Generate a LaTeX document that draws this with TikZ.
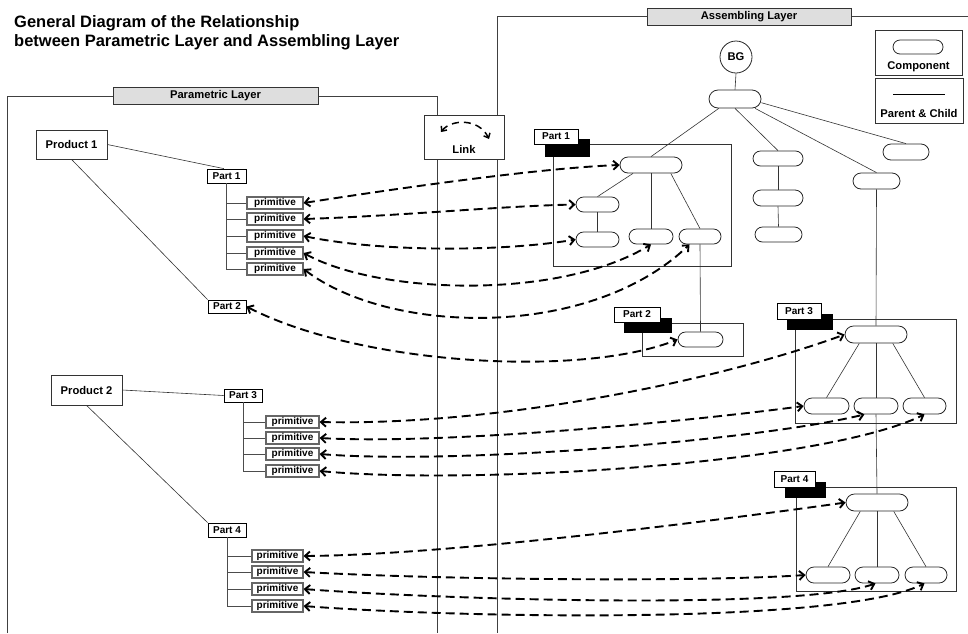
\documentclass[tikz,border=0pt]{standalone}
\usepackage{fontspec}
\setmainfont{Liberation Sans}
\usetikzlibrary{arrows.meta}
\begin{document}
\begin{tikzpicture}[x=1pt,y=-1pt,
  sfont/.style={font=\bfseries\fontsize{10}{11}\selectfont},
  mfont/.style={font=\bfseries\fontsize{11.2}{12}\selectfont},
  plabel/.style={draw=black, line width=0.8pt, fill=white, inner sep=0pt, sfont},
  prim/.style={draw=black!60, line width=1.1pt, fill=white, inner sep=0pt, minimum height=12pt, sfont},
  prod/.style={draw=black!80, line width=0.7pt, fill=white, inner sep=0pt, minimum width=71pt, minimum height=29pt, mfont},
  pill/.style={draw=black!85, line width=0.8pt, fill=white, rounded corners=7.5pt, inner sep=0pt, minimum height=15pt},
  hdr/.style={draw=black!80, line width=0.8pt, fill=black!13, inner sep=0pt, minimum height=17pt, mfont},
  layerframe/.style={draw=black!75, line width=0.8pt},
  grpframe/.style={draw=black!80, line width=0.7pt, fill=none, inner sep=0pt},
  blk/.style={fill=black, draw=black, inner sep=0pt},
  treeline/.style={draw=black!80, line width=0.6pt},
  branch/.style={draw=black!70, line width=0.9pt},
  dlink/.style={line width=1.9pt, dash pattern=on 9pt off 5pt,
     {Straight Barb[length=5pt,width=9pt]}-{Straight Barb[length=5pt,width=9pt]}}
]
\useasboundingbox (0,0) rectangle (968,633);

% ---------- title ----------
\node[anchor=base west, inner sep=0, font=\bfseries\fontsize{16.5}{18}\selectfont] (title1) at (14,27) {General Diagram of the Relationship};
\node[anchor=base west, inner sep=0, font=\bfseries\fontsize{16.5}{18}\selectfont] (title2) at (14,46) {between Parametric Layer and Assembling Layer};

% ---------- layer frames ----------
\draw[layerframe] (7,633) -- (7,96) -- (437,96) -- (437,633);
\draw[layerframe] (968,16) -- (497,16) -- (497,633);
\node[hdr, minimum width=205pt] (phdr) at (215.5,95.5) {Parametric Layer};
\node[hdr, minimum width=204pt] (ahdr) at (749,16.5) {Assembling Layer};

% ---------- link symbol ----------
\node[draw=black!80, line width=0.8pt, fill=white, minimum width=80pt, minimum height=44pt, inner sep=0pt] (linkbox) at (464,137) {};
\node[mfont, inner sep=0pt, anchor=base] (linktxt) at (464,153) {Link};
\draw[line width=1.5pt, dash pattern=on 7pt off 5pt, {Straight Barb[length=4pt,width=7pt]}-{Straight Barb[length=4pt,width=7pt]}] (441,132) .. controls (451,119) and (479,118) .. (489,139);

% ---------- legend ----------
\node[grpframe, minimum width=87pt, minimum height=45pt] (leg1) at (918.5,52.5) {};
\node[pill, minimum width=50pt, minimum height=14pt, rounded corners=7pt] (legpill) at (918,47) {};
\node[mfont, inner sep=0pt, anchor=base] (legtxt1) at (918.5,69) {Component};
\node[grpframe, minimum width=88pt, minimum height=45pt] (leg2) at (919,100.5) {};
\coordinate (legl) at (893,94);
\coordinate (legr) at (945,94);
\draw[line width=0.8pt] (legl) -- (legr);
\node[mfont, inner sep=0pt, anchor=base] (legtxt2) at (919,117) {Parent \& Child};

% ---------- parametric layer ----------
\node[prod] (prod1) at (71.5,144.5) {Product 1};
\node[plabel, minimum width=39pt, minimum height=14pt] (pa1) at (226.5,176) {Part 1};
\foreach \n/\y in {a/203,b/219,c/236,d/253,e/269}
  \node[prim, minimum width=56pt] (prim1\n) at (275,\y) {primitive};
\node[plabel, minimum width=38pt, minimum height=13pt] (pa2) at (227,306.5) {Part 2};

\node[prod, minimum height=30pt] (prod2) at (86.5,390) {Product 2};
\node[plabel, minimum width=38pt, minimum height=13pt] (pa3) at (243,395.5) {Part 3};
\foreach \n/\y in {a/422,b/438,c/454,d/471}
  \node[prim, minimum width=53pt] (prim3\n) at (292.5,\y) {primitive};
\node[plabel, minimum width=38pt, minimum height=14pt] (pa4) at (227,530) {Part 4};
\foreach \n/\y in {a/556,b/572,c/589,d/606}
  \node[prim, minimum width=51pt] (prim4\n) at (277.5,\y) {primitive};

\draw[treeline] (prod1.east) -- (pa1.110);
\draw[treeline] (prod1.south) -- (pa2.north west);
\draw[treeline] (prod2.east) -- (pa3.west);
\draw[treeline] (prod2.south) -- (pa4.north west);
\draw[branch] (pa1.south) |- (prim1e.west);
\foreach \n in {a,b,c,d} \draw[branch] (pa1.south |- prim1\n.west) -- (prim1\n.west);
\draw[branch] (pa3.south) |- (prim3d.west);
\foreach \n in {a,b,c} \draw[branch] (pa3.south |- prim3\n.west) -- (prim3\n.west);
\draw[branch] (pa4.south) |- (prim4d.west);
\foreach \n in {a,b,c} \draw[branch] (pa4.south |- prim4\n.west) -- (prim4\n.west);

% ---------- assembling layer: top tree ----------
\node[circle, draw=black!85, line width=0.8pt, fill=white, minimum size=32pt, inner sep=0pt, mfont] (bg) at (736,57) {BG};
\node[pill, minimum width=52pt, minimum height=18pt, rounded corners=9pt] (root) at (735,99) {};
\node[pill, minimum width=50pt] (m1) at (778,158.5) {};
\node[pill, minimum width=50pt, minimum height=16pt, rounded corners=8pt] (m2) at (778,198) {};
\node[pill, minimum width=47pt] (m3) at (778.5,234.5) {};
\node[pill, minimum width=46pt, minimum height=16pt, rounded corners=8pt] (fr) at (906,152) {};
\node[pill, minimum width=47pt, minimum height=16pt, rounded corners=8pt] (rc) at (876.5,181) {};

% ---------- Part 1 group ----------
\node[grpframe, minimum width=178pt, minimum height=122pt] (g1) at (642,205) {};
\node[blk, minimum width=44pt, minimum height=17pt] (b1) at (567,147.5) {};
\node[plabel, minimum width=44pt, minimum height=15pt] (l1) at (556,136.5) {Part 1};
\node[pill, minimum width=62pt, minimum height=16pt, rounded corners=8pt] (p1r) at (651,165) {};
\node[pill, minimum width=43pt] (p1a) at (597.5,204.5) {};
\node[pill, minimum width=43pt] (p1b) at (597.5,239.5) {};
\node[pill, minimum width=44pt] (p1c) at (651,236.5) {};
\node[pill, minimum width=42pt] (p1d) at (700,236.5) {};

% ---------- Part 2 group ----------
\node[grpframe, minimum width=101pt, minimum height=33pt] (g2) at (692.5,339.5) {};
\node[blk, minimum width=47pt, minimum height=14pt] (b2) at (647.5,325) {};
\node[plabel, minimum width=46pt, minimum height=15pt] (l2) at (637,314.5) {Part 2};
\node[pill, minimum width=45pt] (p2p) at (700.5,339.5) {};

% ---------- Part 3 group ----------
\node[grpframe, minimum width=161pt, minimum height=104pt] (g3) at (875.5,371) {};
\node[blk, minimum width=45pt, minimum height=15pt] (b3) at (809.5,321.5) {};
\node[plabel, minimum width=44pt, minimum height=16pt] (l3) at (799,311) {Part 3};
\node[pill, minimum width=62pt, minimum height=17pt, rounded corners=8.5pt] (p3r) at (876,334.5) {};
\node[pill, minimum width=45pt, minimum height=16pt, rounded corners=8pt] (p3l) at (826.5,406) {};
\node[pill, minimum width=44pt, minimum height=16pt, rounded corners=8pt] (p3m) at (876,406) {};
\node[pill, minimum width=43pt, minimum height=16pt, rounded corners=8pt] (p3rr) at (924.5,406) {};

% ---------- Part 4 group ----------
\node[grpframe, minimum width=160pt, minimum height=104pt] (g4) at (876,539) {};
\node[blk, minimum width=40pt, minimum height=15pt] (b4) at (805,489.5) {};
\node[plabel, minimum width=41pt, minimum height=16pt] (l4) at (794.5,479) {Part 4};
\node[pill, minimum width=62pt, minimum height=17pt, rounded corners=8.5pt] (p4r) at (877,502.5) {};
\node[pill, minimum width=44pt, minimum height=16pt, rounded corners=8pt] (p4l) at (828,575) {};
\node[pill, minimum width=44pt, minimum height=16pt, rounded corners=8pt] (p4m) at (877,575) {};
\node[pill, minimum width=42pt, minimum height=16pt, rounded corners=8pt] (p4rr) at (926,575) {};

% ---------- parent/child lines ----------
\draw[treeline] (bg.south) -- (root.north);
\draw[treeline] (root.-150) -- (p1r.north);
\draw[treeline] (root.south) -- (m1.north);
\draw[treeline] (root.-25) -- (rc.north);
\draw[treeline] (root.-8) -- (fr.north);
\draw[treeline] (m1.south) -- (m2.north);
\draw[treeline] (m2.south) -- (m3.north);
\draw[treeline] (p1r.-155) -- (p1a.north);
\draw[treeline] (p1r.south) -- (p1c.north);
\draw[treeline] (p1r.-23) -- (p1d.north);
\draw[treeline] (p1a.south) -- (p1b.north);
\draw[treeline] (p1d.south) -- (p2p.north);
\draw[treeline] (rc.south) -- (p3r.north);
\draw[treeline] (p3r.south) -- (p3m.north);
\draw[treeline] (p3r.-152) -- (p3l.north);
\draw[treeline] (p3r.-28) -- (p3rr.north);
\draw[treeline] (p3m.south) -- (p4r.north);
\draw[treeline] (p4r.south) -- (p4m.north);
\draw[treeline] (p4r.-152) -- (p4l.north);
\draw[treeline] (p4r.-28) -- (p4rr.north);

% ---------- dashed links ----------
\draw[dlink] (prim1a.east) .. controls (400,188) and (540,168) .. (p1r.west);
\draw[dlink] (prim1b.east) .. controls (400,216) and (500,206) .. (p1a.west);
\draw[dlink] (prim1c.east) .. controls (380,252) and (500,252) .. (p1b.west);
\draw[dlink] (prim1d.east) .. controls (380,295) and (560,300) .. (p1c.south);
\draw[dlink] (prim1e.east) .. controls (390,335) and (590,340) .. (p1d.-143);
\draw[dlink] (pa2.east) .. controls (360,365) and (580,378) .. (p2p.west);

\draw[dlink] (prim3a.east) .. controls (500,426) and (720,380) .. (p3r.west);
\draw[dlink] (prim3b.east) .. controls (450,445) and (700,420) .. (p3l.west);
\draw[dlink] (prim3c.east) .. controls (460,465) and (760,440) .. (p3m.-144);
\draw[dlink] (prim3d.east) .. controls (470,485) and (820,465) .. (p3rr.south);

\draw[dlink] (prim4a.east) .. controls (450,555) and (720,520) .. (p4r.west);
\draw[dlink] (prim4b.east) .. controls (450,580) and (700,582) .. (p4l.west);
\draw[dlink] (prim4c.east) .. controls (450,600) and (800,610) .. (p4m.-100);
\draw[dlink] (prim4d.east) .. controls (460,618) and (840,625) .. (p4rr.-100);
\end{tikzpicture}
\end{document}
